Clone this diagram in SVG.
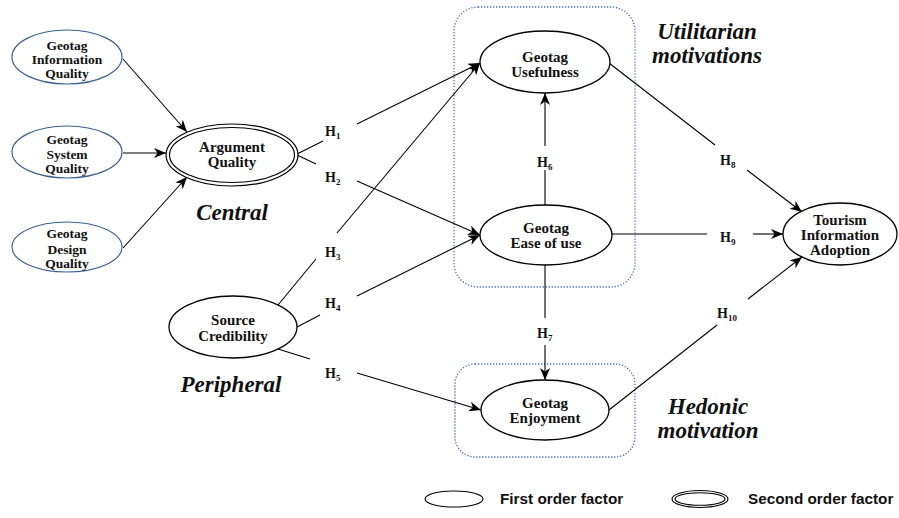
<svg xmlns="http://www.w3.org/2000/svg" width="899" height="518" viewBox="0 0 899 518">
  <defs>
    <marker id="arrow" viewBox="0 0 12 10" refX="12" refY="5" markerWidth="12" markerHeight="10" markerUnits="userSpaceOnUse" orient="auto">
      <path d="M0,0 L12,5 L0,10 L3.5,5 Z" fill="#000"/>
    </marker>
    <style>
      .node { fill: #fff; stroke: #000; stroke-width: 1.3; }
      .indicator { fill: #fff; stroke: #3b5f93; stroke-width: 1.2; }
      .second { fill: none; stroke: #000; stroke-width: 1.2; }
      .group { fill: none; stroke: #4a6fae; stroke-width: 1.3; stroke-dasharray: 1.3 1.7; }
      .lbl { font-family: "Liberation Serif", "Times New Roman", serif; font-weight: bold; font-size: 15px; fill: #111; text-anchor: middle; }
      .lbl-s { font-family: "Liberation Serif", "Times New Roman", serif; font-weight: bold; font-size: 13.5px; fill: #111; text-anchor: middle; }
      .route { font-family: "Liberation Serif", "Times New Roman", serif; font-weight: bold; font-style: italic; font-size: 23px; fill: #111; text-anchor: middle; }
      .hyp { font-family: "Liberation Serif", "Times New Roman", serif; font-weight: bold; font-size: 14px; fill: #111; }
      .hyp tspan { font-size: 9px; }
      .legend { font-family: "Liberation Sans", Arial, sans-serif; font-weight: bold; font-size: 15.3px; fill: #111; }
      .conn line { stroke: #000; stroke-width: 1.1; }
    </style>
  </defs>
  <rect width="899" height="518" fill="#fff"/>

  <!-- construct groupings -->
  <g id="utilitarian-group">
    <rect class="group" x="454" y="7" width="181" height="280" rx="24"/>
    <text class="route" x="707" y="39">Utilitarian</text>
    <text class="route" x="707" y="63">motivations</text>
  </g>
  <g id="hedonic-group">
    <rect class="group" x="455" y="364" width="180" height="93" rx="20"/>
    <text class="route" x="708" y="414">Hedonic</text>
    <text class="route" x="708" y="438">motivation</text>
  </g>
  <text class="route" x="232" y="220">Central</text>
  <text class="route" x="231" y="392">Peripheral</text>

  <!-- connectors -->
  <g id="connectors" class="conn">
    <line x1="123" y1="59" x2="187" y2="132" marker-end="url(#arrow)"/>
    <line x1="123" y1="153" x2="166" y2="153" marker-end="url(#arrow)"/>
    <line x1="123" y1="248" x2="187" y2="177" marker-end="url(#arrow)"/>

    <line x1="297" y1="154" x2="323" y2="141"/>
    <line x1="357" y1="124" x2="480" y2="63" marker-end="url(#arrow)"/>

    <line x1="297" y1="155" x2="316" y2="164"/>
    <line x1="357" y1="181" x2="480" y2="235" marker-end="url(#arrow)"/>

    <line x1="278" y1="305" x2="316" y2="259"/>
    <line x1="337" y1="233" x2="480" y2="63" marker-end="url(#arrow)"/>

    <line x1="297" y1="327" x2="320" y2="315"/>
    <line x1="357" y1="296" x2="480" y2="235" marker-end="url(#arrow)"/>

    <line x1="278" y1="349" x2="310" y2="359"/>
    <line x1="357" y1="373" x2="481" y2="410" marker-end="url(#arrow)"/>

    <line x1="545" y1="205" x2="545" y2="170"/>
    <line x1="545" y1="146" x2="545" y2="93" marker-end="url(#arrow)"/>

    <line x1="545" y1="265" x2="545" y2="318"/>
    <line x1="545" y1="345" x2="545" y2="380" marker-end="url(#arrow)"/>

    <line x1="609" y1="63" x2="715" y2="145"/>
    <line x1="747" y1="170" x2="802" y2="212" marker-end="url(#arrow)"/>

    <line x1="612" y1="234" x2="707" y2="234"/>
    <line x1="753" y1="234" x2="783" y2="234" marker-end="url(#arrow)"/>

    <line x1="609" y1="410" x2="717" y2="325"/>
    <line x1="748" y1="299" x2="802" y2="257" marker-end="url(#arrow)"/>
  </g>

  <!-- hypothesis labels -->
  <g id="hypotheses">
    <text class="hyp" x="325" y="136">H<tspan dy="3">1</tspan></text>
    <text class="hyp" x="325" y="182">H<tspan dy="3">2</tspan></text>
    <text class="hyp" x="325" y="257">H<tspan dy="3">3</tspan></text>
    <text class="hyp" x="325" y="308">H<tspan dy="3">4</tspan></text>
    <text class="hyp" x="325" y="378">H<tspan dy="3">5</tspan></text>
    <text class="hyp" x="537" y="167">H<tspan dy="3">6</tspan></text>
    <text class="hyp" x="537" y="338">H<tspan dy="3">7</tspan></text>
    <text class="hyp" x="720" y="165">H<tspan dy="3">8</tspan></text>
    <text class="hyp" x="720" y="242">H<tspan dy="3">9</tspan></text>
    <text class="hyp" x="717" y="318">H<tspan dy="3">10</tspan></text>
  </g>

  <!-- first-order indicators of argument quality -->
  <g id="info-quality">
    <ellipse class="indicator" cx="67" cy="57" rx="55" ry="27"/>
    <text class="lbl-s" x="67" y="50">Geotag</text>
    <text class="lbl-s" x="67" y="64">Information</text>
    <text class="lbl-s" x="67" y="78">Quality</text>
  </g>
  <g id="system-quality">
    <ellipse class="indicator" cx="67" cy="152" rx="55" ry="26"/>
    <text class="lbl-s" x="67" y="144">Geotag</text>
    <text class="lbl-s" x="67" y="159">System</text>
    <text class="lbl-s" x="67" y="173">Quality</text>
  </g>
  <g id="design-quality">
    <ellipse class="indicator" cx="67" cy="247" rx="55" ry="25"/>
    <text class="lbl-s" x="67" y="238">Geotag</text>
    <text class="lbl-s" x="67" y="254">Design</text>
    <text class="lbl-s" x="67" y="268">Quality</text>
  </g>

  <g id="argument-quality">
    <ellipse cx="232" cy="155" rx="66" ry="31" fill="#fff" stroke="none"/>
    <ellipse class="second" cx="232" cy="155" rx="66" ry="31"/>
    <ellipse class="second" cx="232" cy="155" rx="62.5" ry="27.5"/>
    <text class="lbl" x="232" y="152">Argument</text>
    <text class="lbl" x="232" y="167">Quality</text>
  </g>

  <g id="source-credibility">
    <ellipse class="node" cx="233" cy="327" rx="64" ry="31"/>
    <text class="lbl" x="233" y="325">Source</text>
    <text class="lbl" x="233" y="341">Credibility</text>
  </g>

  <g id="usefulness">
    <ellipse class="node" cx="545" cy="62" rx="65" ry="31"/>
    <text class="lbl" x="545" y="62">Geotag</text>
    <text class="lbl" x="545" y="77">Usefulness</text>
  </g>

  <g id="ease-of-use">
    <ellipse class="node" cx="546" cy="235" rx="66" ry="30"/>
    <text class="lbl" x="546" y="233">Geotag</text>
    <text class="lbl" x="546" y="248">Ease of use</text>
  </g>

  <g id="enjoyment">
    <ellipse class="node" cx="545" cy="410" rx="64" ry="30"/>
    <text class="lbl" x="545" y="408">Geotag</text>
    <text class="lbl" x="545" y="423">Enjoyment</text>
  </g>

  <g id="tourism-adoption">
    <ellipse class="node" cx="840" cy="234" rx="57" ry="31"/>
    <text class="lbl" x="840" y="225">Tourism</text>
    <text class="lbl" x="840" y="240">Information</text>
    <text class="lbl" x="840" y="255">Adoption</text>
  </g>

  <!-- legend -->
  <g id="legend">
    <ellipse cx="454" cy="499" rx="29" ry="8" fill="#fff" stroke="#000" stroke-width="1.1"/>
    <text class="legend" x="500" y="504">First order factor</text>
    <ellipse cx="700" cy="499" rx="28" ry="8.5" fill="none" stroke="#000" stroke-width="1.1"/>
    <ellipse cx="700" cy="499" rx="25" ry="6.3" fill="none" stroke="#000" stroke-width="1.1"/>
    <text class="legend" x="748" y="504">Second order factor</text>
  </g>
</svg>
